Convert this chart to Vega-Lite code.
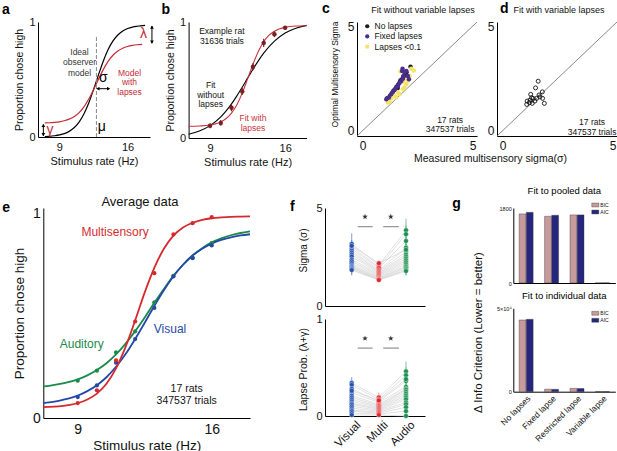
{
  "$schema": "https://vega.github.io/schema/vega-lite/v6.json",
  "background": "white",
  "padding": {"left": 2, "top": 1, "right": 0, "bottom": 0},
  "config": {
    "font": "Liberation Sans",
    "view": {"stroke": null},
    "axis": {"grid": false, "ticks": false, "domainColor": "#000", "domainWidth": 1, "labelColor": "#111", "titleColor": "#111", "titleFontWeight": "normal", "labelFlush": false, "labelOverlap": false, "labelPadding": 3},
    "title": {"anchor": "start", "frame": "group", "fontSize": 14, "fontWeight": "bold", "baseline": "alphabetic", "color": "#000"},
    "legend": {"padding": 0, "labelColor": "#111"}
  },
  "datasets": {
    "rats": [
      {"r":1,"c":1,"s":3.2,"sl":2.95,"sh":3.75,"l":0.34,"ll":0.29,"lh":0.4},
      {"r":2,"c":1,"s":3.05,"sl":2.8,"sh":3.35,"l":0.32,"ll":0.27,"lh":0.37},
      {"r":3,"c":1,"s":2.95,"sl":2.7,"sh":3.25,"l":0.28,"ll":0.23,"lh":0.33},
      {"r":4,"c":1,"s":2.85,"sl":2.6,"sh":3.15,"l":0.24,"ll":0.19,"lh":0.29},
      {"r":5,"c":1,"s":2.75,"sl":2.5,"sh":3.05,"l":0.21,"ll":0.16,"lh":0.26},
      {"r":6,"c":1,"s":2.65,"sl":2.4,"sh":2.95,"l":0.19,"ll":0.14,"lh":0.24},
      {"r":7,"c":1,"s":2.55,"sl":2.3,"sh":2.85,"l":0.17,"ll":0.12,"lh":0.22},
      {"r":8,"c":1,"s":2.4,"sl":2.15,"sh":2.7,"l":0.15,"ll":0.1,"lh":0.2},
      {"r":9,"c":1,"s":2.3,"sl":2.05,"sh":2.6,"l":0.13,"ll":0.08,"lh":0.18},
      {"r":10,"c":1,"s":2.2,"sl":1.95,"sh":2.5,"l":0.12,"ll":0.07,"lh":0.17},
      {"r":11,"c":1,"s":2.1,"sl":1.85,"sh":2.4,"l":0.1,"ll":0.05,"lh":0.15},
      {"r":12,"c":1,"s":2.05,"sl":1.8,"sh":2.35,"l":0.08,"ll":0.03,"lh":0.13},
      {"r":13,"c":1,"s":2.0,"sl":1.75,"sh":2.3,"l":0.06,"ll":0.02,"lh":0.11},
      {"r":14,"c":1,"s":1.95,"sl":1.7,"sh":2.25,"l":0.05,"ll":0.01,"lh":0.1},
      {"r":15,"c":1,"s":1.9,"sl":1.65,"sh":2.2,"l":0.03,"ll":0.0,"lh":0.08},
      {"r":16,"c":1,"s":1.85,"sl":1.57,"sh":2.15,"l":0.01,"ll":0.0,"lh":0.06},
      {"r":17,"c":1,"s":3.1,"sl":2.85,"sh":3.4,"l":0.26,"ll":0.21,"lh":0.31},
      {"r":1,"c":2,"s":2.1,"sl":1.98,"sh":2.3,"l":0.19,"ll":0.15,"lh":0.24},
      {"r":2,"c":2,"s":2.0,"sl":1.88,"sh":2.14,"l":0.17,"ll":0.13,"lh":0.21},
      {"r":3,"c":2,"s":1.95,"sl":1.83,"sh":2.08,"l":0.15,"ll":0.11,"lh":0.19},
      {"r":4,"c":2,"s":1.85,"sl":1.73,"sh":1.98,"l":0.14,"ll":0.1,"lh":0.18},
      {"r":5,"c":2,"s":1.8,"sl":1.68,"sh":1.93,"l":0.12,"ll":0.08,"lh":0.16},
      {"r":6,"c":2,"s":1.75,"sl":1.63,"sh":1.88,"l":0.11,"ll":0.07,"lh":0.15},
      {"r":7,"c":2,"s":1.7,"sl":1.58,"sh":1.83,"l":0.1,"ll":0.06,"lh":0.14},
      {"r":8,"c":2,"s":1.65,"sl":1.53,"sh":1.78,"l":0.09,"ll":0.05,"lh":0.13},
      {"r":9,"c":2,"s":1.6,"sl":1.48,"sh":1.73,"l":0.08,"ll":0.04,"lh":0.12},
      {"r":10,"c":2,"s":1.55,"sl":1.43,"sh":1.68,"l":0.07,"ll":0.03,"lh":0.11},
      {"r":11,"c":2,"s":1.5,"sl":1.38,"sh":1.63,"l":0.06,"ll":0.02,"lh":0.1},
      {"r":12,"c":2,"s":1.45,"sl":1.34,"sh":1.58,"l":0.05,"ll":0.01,"lh":0.09},
      {"r":13,"c":2,"s":1.42,"sl":1.31,"sh":1.55,"l":0.04,"ll":0.01,"lh":0.08},
      {"r":14,"c":2,"s":1.38,"sl":1.28,"sh":1.5,"l":0.03,"ll":0.0,"lh":0.07},
      {"r":15,"c":2,"s":1.36,"sl":1.27,"sh":1.48,"l":0.02,"ll":0.0,"lh":0.06},
      {"r":16,"c":2,"s":1.34,"sl":1.25,"sh":1.46,"l":0.01,"ll":0.0,"lh":0.05},
      {"r":17,"c":2,"s":2.2,"sl":2.08,"sh":2.32,"l":0.16,"ll":0.12,"lh":0.2},
      {"r":1,"c":3,"s":3.9,"sl":3.4,"sh":4.5,"l":0.46,"ll":0.38,"lh":0.56},
      {"r":2,"c":3,"s":3.7,"sl":3.3,"sh":4.15,"l":0.42,"ll":0.34,"lh":0.5},
      {"r":3,"c":3,"s":3.35,"sl":2.95,"sh":3.8,"l":0.36,"ll":0.28,"lh":0.44},
      {"r":4,"c":3,"s":3.0,"sl":2.65,"sh":3.4,"l":0.3,"ll":0.22,"lh":0.38},
      {"r":5,"c":3,"s":2.8,"sl":2.45,"sh":3.2,"l":0.28,"ll":0.2,"lh":0.36},
      {"r":6,"c":3,"s":2.65,"sl":2.3,"sh":3.05,"l":0.27,"ll":0.19,"lh":0.35},
      {"r":7,"c":3,"s":2.55,"sl":2.2,"sh":2.95,"l":0.25,"ll":0.17,"lh":0.33},
      {"r":8,"c":3,"s":2.45,"sl":2.1,"sh":2.85,"l":0.23,"ll":0.15,"lh":0.31},
      {"r":9,"c":3,"s":2.35,"sl":2.0,"sh":2.75,"l":0.21,"ll":0.13,"lh":0.29},
      {"r":10,"c":3,"s":2.25,"sl":1.95,"sh":2.65,"l":0.19,"ll":0.11,"lh":0.27},
      {"r":11,"c":3,"s":2.15,"sl":1.85,"sh":2.55,"l":0.17,"ll":0.09,"lh":0.25},
      {"r":12,"c":3,"s":2.05,"sl":1.78,"sh":2.45,"l":0.14,"ll":0.06,"lh":0.22},
      {"r":13,"c":3,"s":2.0,"sl":1.72,"sh":2.4,"l":0.12,"ll":0.04,"lh":0.2},
      {"r":14,"c":3,"s":1.92,"sl":1.65,"sh":2.3,"l":0.09,"ll":0.02,"lh":0.17},
      {"r":15,"c":3,"s":1.85,"sl":1.6,"sh":2.25,"l":0.05,"ll":0.0,"lh":0.13},
      {"r":16,"c":3,"s":1.8,"sl":1.57,"sh":2.2,"l":0.0,"ll":0.0,"lh":0.08},
      {"r":17,"c":3,"s":2.9,"sl":2.55,"sh":3.3,"l":0.38,"ll":0.3,"lh":0.46}
    ]
  },
  "spacing": 186,
  "bounds": "flush",
  "resolve": {"scale": {"x": "independent", "y": "independent", "color": "independent"}},
  "vconcat": [
    {
      "spacing": 319,
      "bounds": "flush",
      "resolve": {"scale": {"x": "independent", "y": "independent", "color": "independent"}},
      "hconcat": [
        {
          "spacing": 38.6,
          "bounds": "flush",
          "resolve": {"scale": {"x": "independent", "y": "independent", "color": "independent"}},
          "hconcat": [
            {
              "width": 112, "height": 115,
              "title": {"text": "a", "dx": -36, "dy": 9, "offset": 8},
              "encoding": {
                "x": {"field": "x", "type": "quantitative", "scale": {"domain": [6.8, 18.3], "nice": false, "zero": false}, "axis": {"values": [9, 16], "format": "d", "title": "Stimulus rate (Hz)", "labelFontSize": 11, "titleFontSize": 11, "labelPadding": 4, "titlePadding": 3}},
                "y": {"field": "y", "type": "quantitative", "scale": {"domain": [0, 1], "nice": false}, "axis": {"values": [0, 1], "format": "d", "title": "Proportion chose high", "labelFontSize": 11, "titleFontSize": 10.5, "titlePadding": 4}}
              },
              "layer": [
                {"data": {"values": [{"x":7.5,"y":0.004},{"x":8,"y":0.006},{"x":8.5,"y":0.011},{"x":9,"y":0.018},{"x":9.5,"y":0.029},{"x":10,"y":0.049},{"x":10.5,"y":0.08},{"x":11,"y":0.128},{"x":11.5,"y":0.198},{"x":12,"y":0.293},{"x":12.5,"y":0.411},{"x":13,"y":0.538},{"x":13.5,"y":0.659},{"x":14,"y":0.76},{"x":14.5,"y":0.836},{"x":15,"y":0.887},{"x":15.5,"y":0.921},{"x":16,"y":0.943},{"x":16.5,"y":0.956},{"x":17,"y":0.963},{"x":17.8,"y":0.97}]},
                 "mark": {"type": "line", "color": "#000", "strokeWidth": 1.2, "interpolate": "monotone"}},
                {"data": {"values": [{"x":7.5,"y":0.123},{"x":8,"y":0.124},{"x":8.5,"y":0.127},{"x":9,"y":0.132},{"x":9.5,"y":0.141},{"x":10,"y":0.155},{"x":10.5,"y":0.177},{"x":11,"y":0.21},{"x":11.5,"y":0.26},{"x":12,"y":0.328},{"x":12.5,"y":0.411},{"x":13,"y":0.501},{"x":13.5,"y":0.586},{"x":14,"y":0.658},{"x":14.5,"y":0.711},{"x":15,"y":0.748},{"x":15.5,"y":0.772},{"x":16,"y":0.787},{"x":16.5,"y":0.796},{"x":17,"y":0.802},{"x":17.5,"y":0.806}]},
                 "mark": {"type": "line", "color": "#c42b35", "strokeWidth": 1.2, "interpolate": "monotone"}},
                {"data": {"values": [{"x": 12.8, "y": 0, "y2": 0.87}]},
                 "mark": {"type": "rule", "color": "#8a8a8a", "strokeDash": [4, 2], "strokeWidth": 1},
                 "encoding": {"y2": {"field": "y2"}}},
                {"data": {"values": [{"x": 7.35, "y": 0.01, "y2": 0.11}, {"x": 18.5, "y": 0.815, "y2": 0.965}]},
                 "mark": {"type": "rule", "color": "#000", "strokeWidth": 1},
                 "encoding": {"y2": {"field": "y2"}}},
                {"data": {"values": [{"x": 12.9, "x2": 14.1, "y": 0.42}]},
                 "mark": {"type": "rule", "color": "#000", "strokeWidth": 1},
                 "encoding": {"x2": {"field": "x2"}}},
                {"data": {"values": [{"x": 7.35, "y": 0.1}, {"x": 18.5, "y": 0.955}]},
                 "mark": {"type": "point", "shape": "triangle-up", "filled": true, "color": "#000", "size": 14, "opacity": 1}},
                {"data": {"values": [{"x": 7.35, "y": 0.02}, {"x": 18.5, "y": 0.825}]},
                 "mark": {"type": "point", "shape": "triangle-down", "filled": true, "color": "#000", "size": 14, "opacity": 1}},
                {"data": {"values": [{"x": 12.95, "y": 0.42}]},
                 "mark": {"type": "point", "shape": "triangle-left", "filled": true, "color": "#000", "size": 14, "opacity": 1}},
                {"data": {"values": [{"x": 14.05, "y": 0.42}]},
                 "mark": {"type": "point", "shape": "triangle-right", "filled": true, "color": "#000", "size": 14, "opacity": 1}},
                {"data": {"values": [{"x": 11.06, "y": 0.74, "t": "Ideal\nobserver\nmodel"}]},
                 "mark": {"type": "text", "fontSize": 8.5, "color": "#333", "lineBreak": "\n", "lineHeight": 10.5, "baseline": "middle"},
                 "encoding": {"text": {"field": "t"}}},
                {"data": {"values": [{"x": 16.2, "y": 0.56, "t": "Model\nwith\nlapses"}]},
                 "mark": {"type": "text", "fontSize": 8.5, "color": "#c42b35", "lineBreak": "\n", "lineHeight": 9.5, "baseline": "middle"},
                 "encoding": {"text": {"field": "t"}}},
                {"data": {"values": [{"x": 13.5, "y": 0.51, "t": "σ"}, {"x": 13.35, "y": 0.09, "t": "μ"}]},
                 "mark": {"type": "text", "fontSize": 14, "color": "#000", "baseline": "middle"},
                 "encoding": {"text": {"field": "t"}}},
                {"data": {"values": [{"x": 17.63, "y": 0.895, "t": "λ"}, {"x": 8.02, "y": 0.06, "t": "γ"}]},
                 "mark": {"type": "text", "fontSize": 14, "color": "#c42b35", "baseline": "middle"},
                 "encoding": {"text": {"field": "t"}}}
              ]
            },
            {
              "width": 118, "height": 116,
              "title": {"text": "b", "dx": -27, "dy": 9, "offset": 8},
              "encoding": {
                "x": {"field": "x", "type": "quantitative", "scale": {"domain": [7, 18], "nice": false, "zero": false}, "axis": {"values": [9, 16], "format": "d", "title": "Stimulus rate (Hz)", "labelFontSize": 11, "titleFontSize": 11, "labelPadding": 4, "titlePadding": 3}},
                "y": {"field": "y", "type": "quantitative", "scale": {"domain": [0, 1], "nice": false}, "axis": {"values": [0, 1], "format": "d", "title": "Proportion chose high", "labelFontSize": 11, "titleFontSize": 10.5, "titlePadding": 4}}
              },
              "layer": [
                {"data": {"values": [{"x":7,"y":0.033},{"x":8,"y":0.06},{"x":9,"y":0.107},{"x":10,"y":0.182},{"x":10.5,"y":0.234},{"x":11,"y":0.294},{"x":11.5,"y":0.363},{"x":12,"y":0.438},{"x":12.5,"y":0.516},{"x":13,"y":0.593},{"x":13.5,"y":0.665},{"x":14,"y":0.731},{"x":15,"y":0.835},{"x":16,"y":0.905},{"x":17,"y":0.947},{"x":18,"y":0.971}]},
                 "mark": {"type": "line", "color": "#000", "strokeWidth": 1.1, "interpolate": "monotone"}},
                {"data": {"values": [{"x":7,"y":0.101},{"x":8,"y":0.104},{"x":9,"y":0.112},{"x":9.5,"y":0.122},{"x":10,"y":0.139},{"x":10.5,"y":0.168},{"x":11,"y":0.215},{"x":11.5,"y":0.287},{"x":12,"y":0.387},{"x":12.5,"y":0.51},{"x":13,"y":0.636},{"x":13.5,"y":0.746},{"x":14,"y":0.83},{"x":14.5,"y":0.886},{"x":15,"y":0.921},{"x":15.5,"y":0.942},{"x":16,"y":0.954},{"x":17,"y":0.965},{"x":18,"y":0.968}]},
                 "mark": {"type": "line", "color": "#c8323c", "strokeWidth": 1.1, "interpolate": "monotone"}},
                {"data": {"values": [{"x":9,"y":0.085,"y2":0.125},{"x":10,"y":0.105,"y2":0.155},{"x":11,"y":0.23,"y2":0.29},{"x":12,"y":0.37,"y2":0.43},{"x":13,"y":0.585,"y2":0.645},{"x":14,"y":0.785,"y2":0.855},{"x":15,"y":0.87,"y2":0.92},{"x":16,"y":0.935,"y2":0.965}]},
                 "mark": {"type": "rule", "color": "#7a1f22", "strokeWidth": 1.2},
                 "encoding": {"y2": {"field": "y2"}}},
                {"data": {"values": [{"x":9,"y":0.105},{"x":10,"y":0.13},{"x":11,"y":0.26},{"x":12,"y":0.4},{"x":13,"y":0.615},{"x":14,"y":0.82},{"x":15,"y":0.895},{"x":16,"y":0.95}]},
                 "mark": {"type": "point", "filled": true, "color": "#7a1f22", "size": 20, "opacity": 1}},
                {"data": {"values": [{"x": 10.1, "y": 0.925, "t": "Example rat\n31636 trials"}]},
                 "mark": {"type": "text", "fontSize": 8.5, "color": "#111", "lineBreak": "\n", "lineHeight": 10, "baseline": "middle"},
                 "encoding": {"text": {"field": "t"}}},
                {"data": {"values": [{"x": 9.06, "y": 0.455, "t": "Fit\nwithout\nlapses"}]},
                 "mark": {"type": "text", "fontSize": 8.5, "color": "#111", "lineBreak": "\n", "lineHeight": 9.5, "baseline": "middle"},
                 "encoding": {"text": {"field": "t"}}},
                {"data": {"values": [{"x": 13.0, "y": 0.175, "t": "Fit with\nlapses"}]},
                 "mark": {"type": "text", "fontSize": 8.5, "color": "#c8323c", "lineBreak": "\n", "lineHeight": 10.5, "baseline": "middle"},
                 "encoding": {"text": {"field": "t"}}}
              ]
            }
          ]
        },
        {
          "spacing": 20,
          "bounds": "flush",
          "resolve": {"scale": {"x": "independent", "y": "independent", "color": "independent"}},
          "hconcat": [
            {
              "width": 120, "height": 114,
              "title": {"text": "c", "dx": -35, "dy": 20, "offset": 10},
              "encoding": {
                "x": {"field": "x", "type": "quantitative", "scale": {"domain": [-0.25, 5.2], "nice": false, "zero": false}, "axis": {"values": [0, 5], "title": "Measured multisensory sigma(σ)", "labelFontSize": 12, "titleFontSize": 10.5, "labelPadding": 4, "titleX": 133, "titleY": 22, "titleBaseline": "middle"}},
                "y": {"field": "y", "type": "quantitative", "scale": {"domain": [-0.25, 5.2], "nice": false, "zero": false}, "axis": {"values": [0, 5], "title": "Optimal Multisensory Sigma", "labelFontSize": 12, "titleFontSize": 8.5, "titleX": -23, "titleY": 52, "titleBaseline": "middle"}}
              },
              "layer": [
                {"data": {"values": [{"x": -0.25, "y": -0.25}, {"x": 5.2, "y": 5.2}]},
                 "mark": {"type": "line", "color": "#6a6a6a", "strokeWidth": 0.8}},
                {"data": {"values": [
                  {"g":"No lapses","x":2.18,"y":3.06},{"g":"No lapses","x":1.12,"y":1.55},{"g":"No lapses","x":1.25,"y":1.68},{"g":"No lapses","x":1.35,"y":1.82},{"g":"No lapses","x":1.45,"y":1.95},{"g":"No lapses","x":1.55,"y":2.1},{"g":"No lapses","x":1.62,"y":2.2},{"g":"No lapses","x":1.7,"y":2.32},{"g":"No lapses","x":1.78,"y":2.45},{"g":"No lapses","x":1.85,"y":2.58},{"g":"No lapses","x":1.93,"y":2.7},{"g":"No lapses","x":2.0,"y":2.8},{"g":"No lapses","x":1.4,"y":1.9},{"g":"No lapses","x":1.6,"y":2.05},{"g":"No lapses","x":1.72,"y":2.4},{"g":"No lapses","x":1.88,"y":2.52},{"g":"No lapses","x":2.05,"y":2.55},
                  {"g":"Lapses <0.1","x":2.21,"y":2.97},{"g":"Lapses <0.1","x":2.33,"y":2.88},{"g":"Lapses <0.1","x":1.99,"y":2.22},{"g":"Lapses <0.1","x":1.83,"y":1.99},{"g":"Lapses <0.1","x":1.61,"y":1.83},{"g":"Lapses <0.1","x":1.45,"y":1.67},{"g":"Lapses <0.1","x":1.3,"y":1.54},{"g":"Lapses <0.1","x":1.72,"y":2.83},{"g":"Lapses <0.1","x":2.06,"y":2.38},{"g":"Lapses <0.1","x":2.14,"y":2.62},{"g":"Lapses <0.1","x":1.91,"y":2.07},{"g":"Lapses <0.1","x":1.68,"y":1.75},{"g":"Lapses <0.1","x":1.53,"y":1.59},{"g":"Lapses <0.1","x":1.23,"y":1.38},{"g":"Lapses <0.1","x":1.15,"y":1.35},{"g":"Lapses <0.1","x":2.02,"y":2.46},{"g":"Lapses <0.1","x":1.83,"y":2.33},
                  {"g":"Fixed lapses","x":1.08,"y":1.51},{"g":"Fixed lapses","x":1.2,"y":1.59},{"g":"Fixed lapses","x":1.3,"y":1.75},{"g":"Fixed lapses","x":1.38,"y":1.86},{"g":"Fixed lapses","x":1.47,"y":1.99},{"g":"Fixed lapses","x":1.53,"y":2.07},{"g":"Fixed lapses","x":1.61,"y":2.14},{"g":"Fixed lapses","x":1.68,"y":2.3},{"g":"Fixed lapses","x":1.76,"y":2.38},{"g":"Fixed lapses","x":1.83,"y":2.49},{"g":"Fixed lapses","x":1.86,"y":2.62},{"g":"Fixed lapses","x":1.91,"y":2.78},{"g":"Fixed lapses","x":1.8,"y":2.86},{"g":"Fixed lapses","x":1.99,"y":2.86},{"g":"Fixed lapses","x":2.06,"y":2.62},{"g":"Fixed lapses","x":2.11,"y":2.46},{"g":"Fixed lapses","x":1.82,"y":2.97}
                 ]},
                 "mark": {"type": "circle", "size": 20, "opacity": 1},
                 "encoding": {"color": {"field": "g", "type": "nominal", "scale": {"domain": ["No lapses", "Fixed lapses", "Lapses <0.1"], "range": ["#1c1c1c", "#4b2d8f", "#f2e46b"]},
                   "legend": {"orient": "none", "legendX": 6, "legendY": 0, "title": null, "labelFontSize": 8.5, "symbolSize": 18, "symbolType": "circle", "rowPadding": 1.2, "labelOffset": 3}}}},
                {"data": {"values": [{"x": 3.98, "y": 0.53, "t": "17 rats\n347537 trials"}]},
                 "mark": {"type": "text", "fontSize": 8.5, "color": "#111", "lineBreak": "\n", "lineHeight": 9.5, "baseline": "middle"},
                 "encoding": {"text": {"field": "t"}}},
                {"data": {"values": [{"x": 2.75, "y": 5.78, "t": "Fit without variable lapses"}]},
                 "mark": {"type": "text", "fontSize": 9, "color": "#111", "baseline": "middle"},
                 "encoding": {"text": {"field": "t"}}}
              ]
            },
            {
              "width": 120, "height": 114,
              "title": {"text": "d", "dx": 3, "dy": 20, "offset": 10},
              "encoding": {
                "x": {"field": "x", "type": "quantitative", "scale": {"domain": [-0.25, 5.2], "nice": false, "zero": false}, "axis": {"values": [0, 5], "title": null, "labelFontSize": 12, "labelPadding": 4}},
                "y": {"field": "y", "type": "quantitative", "scale": {"domain": [-0.25, 5.2], "nice": false, "zero": false}, "axis": {"values": [0, 5], "title": null, "labelFontSize": 12}}
              },
              "layer": [
                {"data": {"values": [{"x": -0.25, "y": -0.25}, {"x": 5.2, "y": 5.2}]},
                 "mark": {"type": "line", "color": "#6a6a6a", "strokeWidth": 0.8}},
                {"data": {"values": [{"x":1.62,"y":2.37},{"x":1.5,"y":2.05},{"x":1.81,"y":1.86},{"x":1.66,"y":1.71},{"x":1.9,"y":1.31},{"x":1.28,"y":1.74},{"x":1.32,"y":1.58},{"x":1.12,"y":1.42},{"x":1.1,"y":1.26},{"x":1.22,"y":1.35},{"x":1.35,"y":1.31},{"x":1.47,"y":1.42},{"x":1.55,"y":1.55},{"x":1.82,"y":1.55},{"x":1.39,"y":1.55},{"x":1.7,"y":1.62},{"x":1.25,"y":1.47}]},
                 "mark": {"type": "point", "shape": "circle", "filled": false, "color": "#111", "size": 16, "strokeWidth": 0.9, "opacity": 1}},
                {"data": {"values": [{"x": 4.07, "y": 0.4, "t": "17 rats\n347537 trials"}]},
                 "mark": {"type": "text", "fontSize": 8.5, "color": "#111", "lineBreak": "\n", "lineHeight": 9.5, "baseline": "middle"},
                 "encoding": {"text": {"field": "t"}}},
                {"data": {"values": [{"x": 2.57, "y": 5.78, "t": "Fit with variable lapses"}]},
                 "mark": {"type": "text", "fontSize": 9, "color": "#111", "baseline": "middle"},
                 "encoding": {"text": {"field": "t"}}}
              ]
            }
          ]
        }
      ]
    },
    {
      "spacing": 287,
      "bounds": "flush",
      "resolve": {"scale": {"x": "independent", "y": "independent", "color": "independent"}},
      "hconcat": [
        {
          "spacing": 4.3,
          "bounds": "flush",
          "resolve": {"scale": {"x": "independent", "y": "independent", "color": "independent"}},
          "hconcat": [
            {"width": 1, "height": 1, "data": {"values": []}, "mark": "point"},
            {
              "width": 206.7, "height": 210,
              "title": {"text": "e", "dx": -41, "dy": 15, "offset": -4},
              "encoding": {
                "x": {"field": "x", "type": "quantitative", "scale": {"domain": [7.2, 18], "nice": false, "zero": false}, "axis": {"values": [9, 16], "format": "d", "title": "Stimulus rate (Hz)", "labelFontSize": 14, "titleFontSize": 13.5, "labelPadding": 4, "titlePadding": 2}},
                "y": {"field": "y", "type": "quantitative", "scale": {"domain": [0, 1.025], "nice": false}, "axis": {"values": [0, 1], "format": "d", "title": "Proportion chose high", "labelFontSize": 14, "titleFontSize": 13.5, "titlePadding": 6}},
                "color": {"field": "m", "type": "nominal", "scale": {"domain": ["Multisensory", "Auditory", "Visual"], "range": ["#d42a2e", "#1b8a4a", "#2548a8"]}, "legend": null}
              },
              "layer": [
                {"data": {"values": [
                  {"m":"Auditory","x":7.2,"y":0.154},{"m":"Auditory","x":7.5,"y":0.157},{"m":"Auditory","x":8,"y":0.165},{"m":"Auditory","x":8.5,"y":0.175},{"m":"Auditory","x":9,"y":0.189},{"m":"Auditory","x":9.5,"y":0.208},{"m":"Auditory","x":10,"y":0.234},{"m":"Auditory","x":10.5,"y":0.267},{"m":"Auditory","x":11,"y":0.31},{"m":"Auditory","x":11.5,"y":0.363},{"m":"Auditory","x":12,"y":0.424},{"m":"Auditory","x":12.5,"y":0.491},{"m":"Auditory","x":13,"y":0.562},{"m":"Auditory","x":13.5,"y":0.63},{"m":"Auditory","x":14,"y":0.694},{"m":"Auditory","x":14.5,"y":0.748},{"m":"Auditory","x":15,"y":0.793},{"m":"Auditory","x":15.5,"y":0.829},{"m":"Auditory","x":16,"y":0.857},{"m":"Auditory","x":16.5,"y":0.877},{"m":"Auditory","x":17,"y":0.892},{"m":"Auditory","x":17.5,"y":0.903},{"m":"Auditory","x":18,"y":0.911},
                  {"m":"Visual","x":7.2,"y":0.073},{"m":"Visual","x":7.5,"y":0.076},{"m":"Visual","x":8,"y":0.084},{"m":"Visual","x":8.5,"y":0.094},{"m":"Visual","x":9,"y":0.109},{"m":"Visual","x":9.5,"y":0.131},{"m":"Visual","x":10,"y":0.16},{"m":"Visual","x":10.5,"y":0.199},{"m":"Visual","x":11,"y":0.25},{"m":"Visual","x":11.5,"y":0.312},{"m":"Visual","x":12,"y":0.386},{"m":"Visual","x":12.5,"y":0.465},{"m":"Visual","x":13,"y":0.547},{"m":"Visual","x":13.5,"y":0.624},{"m":"Visual","x":14,"y":0.692},{"m":"Visual","x":14.5,"y":0.748},{"m":"Visual","x":15,"y":0.793},{"m":"Visual","x":15.5,"y":0.826},{"m":"Visual","x":16,"y":0.851},{"m":"Visual","x":16.5,"y":0.869},{"m":"Visual","x":17,"y":0.882},{"m":"Visual","x":17.5,"y":0.891},{"m":"Visual","x":18,"y":0.897},
                  {"m":"Multisensory","x":7.2,"y":0.053},{"m":"Multisensory","x":7.5,"y":0.054},{"m":"Multisensory","x":8,"y":0.057},{"m":"Multisensory","x":8.5,"y":0.063},{"m":"Multisensory","x":9,"y":0.072},{"m":"Multisensory","x":9.5,"y":0.09},{"m":"Multisensory","x":10,"y":0.119},{"m":"Multisensory","x":10.5,"y":0.167},{"m":"Multisensory","x":11,"y":0.242},{"m":"Multisensory","x":11.5,"y":0.347},{"m":"Multisensory","x":12,"y":0.476},{"m":"Multisensory","x":12.5,"y":0.613},{"m":"Multisensory","x":13,"y":0.733},{"m":"Multisensory","x":13.5,"y":0.826},{"m":"Multisensory","x":14,"y":0.89},{"m":"Multisensory","x":14.5,"y":0.93},{"m":"Multisensory","x":15,"y":0.953},{"m":"Multisensory","x":15.5,"y":0.967},{"m":"Multisensory","x":16,"y":0.975},{"m":"Multisensory","x":16.5,"y":0.979},{"m":"Multisensory","x":17,"y":0.982},{"m":"Multisensory","x":17.5,"y":0.983},{"m":"Multisensory","x":18,"y":0.984}
                 ]},
                 "mark": {"type": "line", "strokeWidth": 1.8, "interpolate": "monotone"}},
                {"data": {"values": [
                  {"m":"Auditory","x":9,"y":0.182},{"m":"Auditory","x":10,"y":0.231},{"m":"Auditory","x":11,"y":0.32},{"m":"Auditory","x":12,"y":0.423},{"m":"Auditory","x":13,"y":0.564},{"m":"Auditory","x":14,"y":0.694},{"m":"Auditory","x":15,"y":0.783},{"m":"Auditory","x":16,"y":0.854},
                  {"m":"Visual","x":9,"y":0.102},{"m":"Visual","x":10,"y":0.159},{"m":"Visual","x":11,"y":0.27},{"m":"Visual","x":12,"y":0.385},{"m":"Visual","x":13,"y":0.537},{"m":"Visual","x":14,"y":0.691},{"m":"Visual","x":15,"y":0.78},{"m":"Visual","x":16,"y":0.842},
                  {"m":"Multisensory","x":9,"y":0.073},{"m":"Multisensory","x":10,"y":0.135},{"m":"Multisensory","x":11,"y":0.281},{"m":"Multisensory","x":12,"y":0.471},{"m":"Multisensory","x":13,"y":0.707},{"m":"Multisensory","x":14,"y":0.896},{"m":"Multisensory","x":15,"y":0.951},{"m":"Multisensory","x":16,"y":0.98}
                 ]},
                 "mark": {"type": "circle", "size": 18, "opacity": 1}},
                {"data": {"values": [{"m": "Multisensory", "x": 10.95, "y": 0.909}, {"m": "Auditory", "x": 9.21, "y": 0.361}, {"m": "Visual", "x": 13.82, "y": 0.433}]},
                 "mark": {"type": "text", "fontSize": 12, "baseline": "middle"},
                 "encoding": {"text": {"field": "m"}}},
                {"data": {"values": [{"m": "Multisensory", "x": 14.69, "y": 0.142, "t": "17 rats\n347537 trials"}]},
                 "mark": {"type": "text", "fontSize": 10.5, "lineBreak": "\n", "lineHeight": 12, "baseline": "middle"},
                 "encoding": {"text": {"field": "t"}, "color": {"value": "#111"}}},
                {"data": {"values": [{"m": "Multisensory", "x": 12.25, "y": 1.054, "t": "Average data"}]},
                 "mark": {"type": "text", "fontSize": 13, "baseline": "middle"},
                 "encoding": {"text": {"field": "t"}, "color": {"value": "#111"}}}
              ]
            }
          ]
        },
        {
          "spacing": 188.3,
          "bounds": "flush",
          "resolve": {"scale": {"x": "independent", "y": "independent", "color": "independent"}},
          "hconcat": [
            {
              "spacing": 13,
              "bounds": "flush",
              "resolve": {"scale": {"x": "independent", "y": "independent", "color": "independent"}},
              "vconcat": [
                {
                  "width": 100, "height": 98,
                  "title": {"text": "f", "dx": -35, "dy": 8, "offset": -3},
                  "data": {"name": "rats"},
                  "encoding": {
                    "x": {"field": "c", "type": "quantitative", "scale": {"domain": [0.015, 3.7], "nice": false, "zero": false}, "axis": {"values": [1, 2, 3], "labels": false, "title": null}}
                  },
                  "layer": [
                    {"mark": {"type": "line", "color": "#cccccc", "strokeWidth": 0.6},
                     "encoding": {"y": {"field": "s", "type": "quantitative", "scale": {"domain": [0, 5.05], "nice": false}, "axis": {"values": [0, 5], "title": "Sigma (σ)", "labelFontSize": 11, "titleFontSize": 10, "titleX": -22, "titleY": 42, "titleBaseline": "middle"}}, "detail": {"field": "r"}}},
                    {"mark": {"type": "rule", "strokeWidth": 1, "opacity": 0.55},
                     "encoding": {"y": {"field": "sl", "type": "quantitative", "title": "Sigma (σ)"}, "y2": {"field": "sh"},
                       "color": {"field": "c", "type": "nominal", "scale": {"domain": [1, 2, 3], "range": ["#2450b0", "#e0262e", "#1a9050"]}, "legend": null}}},
                    {"mark": {"type": "point", "filled": true, "size": 24, "stroke": "#ffffff", "strokeWidth": 0.4, "opacity": 1},
                     "encoding": {"y": {"field": "s", "type": "quantitative", "title": "Sigma (σ)"},
                       "color": {"field": "c", "type": "nominal", "scale": {"domain": [1, 2, 3], "range": ["#2450b0", "#e0262e", "#1a9050"]}, "legend": null}}},
                    {"data": {"values": [{"c": 1.22, "c2": 1.77, "s": 4.09}, {"c": 2.16, "c2": 2.74, "s": 4.09}]},
                     "mark": {"type": "rule", "color": "#9a9a9a", "strokeWidth": 1.3},
                     "encoding": {"x2": {"field": "c2"}, "y": {"field": "s", "type": "quantitative", "title": "Sigma (σ)"}}},
                    {"data": {"values": [{"c": 1.49, "s": 4.6}, {"c": 2.44, "s": 4.6}]},
                     "mark": {"type": "point", "shape": "M0,-1L0.235,-0.324L0.951,-0.309L0.38,0.124L0.588,0.809L0,0.4L-0.588,0.809L-0.38,0.124L-0.951,-0.309L-0.235,-0.324Z", "filled": true, "color": "#333", "size": 36, "opacity": 1},
                     "encoding": {"y": {"field": "s", "type": "quantitative", "title": "Sigma (σ)"}}}
                  ]
                },
                {
                  "width": 100, "height": 97,
                  "data": {"name": "rats"},
                  "encoding": {
                    "x": {"field": "c", "type": "quantitative", "scale": {"domain": [0.015, 3.7], "nice": false, "zero": false}, "axis": {"values": [1, 2, 3], "labels": false, "title": null}}
                  },
                  "layer": [
                    {"mark": {"type": "line", "color": "#cccccc", "strokeWidth": 0.6},
                     "encoding": {"y": {"field": "l", "type": "quantitative", "scale": {"domain": [0, 1], "nice": false}, "axis": {"values": [0, 1], "format": "d", "title": "Lapse Prob. (λ+γ)", "labelFontSize": 11, "titleFontSize": 10.5, "titleX": -22, "titleY": 50, "titleBaseline": "middle"}}, "detail": {"field": "r"}}},
                    {"mark": {"type": "rule", "strokeWidth": 1, "opacity": 0.55},
                     "encoding": {"y": {"field": "ll", "type": "quantitative", "title": "Lapse Prob. (λ+γ)"}, "y2": {"field": "lh"},
                       "color": {"field": "c", "type": "nominal", "scale": {"domain": [1, 2, 3], "range": ["#2450b0", "#e0262e", "#1a9050"]}, "legend": null}}},
                    {"mark": {"type": "point", "filled": true, "size": 24, "stroke": "#ffffff", "strokeWidth": 0.4, "opacity": 1},
                     "encoding": {"y": {"field": "l", "type": "quantitative", "title": "Lapse Prob. (λ+γ)"},
                       "color": {"field": "c", "type": "nominal", "scale": {"domain": [1, 2, 3], "range": ["#2450b0", "#e0262e", "#1a9050"]}, "legend": null}}},
                    {"data": {"values": [{"c": 1.22, "c2": 1.77, "l": 0.7}, {"c": 2.16, "c2": 2.74, "l": 0.7}]},
                     "mark": {"type": "rule", "color": "#9a9a9a", "strokeWidth": 1.3},
                     "encoding": {"x2": {"field": "c2"}, "y": {"field": "l", "type": "quantitative", "title": "Lapse Prob. (λ+γ)"}}},
                    {"data": {"values": [{"c": 1.49, "l": 0.8}, {"c": 2.44, "l": 0.8}]},
                     "mark": {"type": "point", "shape": "M0,-1L0.235,-0.324L0.951,-0.309L0.38,0.124L0.588,0.809L0,0.4L-0.588,0.809L-0.38,0.124L-0.951,-0.309L-0.235,-0.324Z", "filled": true, "color": "#333", "size": 36, "opacity": 1},
                     "encoding": {"y": {"field": "l", "type": "quantitative", "title": "Lapse Prob. (λ+γ)"}}},
                    {"data": {"values": [{"c": 1.12, "l": -0.035, "t": "Visual"}, {"c": 2.12, "l": -0.035, "t": "Multi"}, {"c": 3.12, "l": -0.035, "t": "Audio"}]},
                     "mark": {"type": "text", "fontSize": 11.5, "color": "#111", "angle": -45, "align": "right", "baseline": "top"},
                     "encoding": {"y": {"field": "l", "type": "quantitative", "title": "Lapse Prob. (λ+γ)"}, "text": {"field": "t"}}}
                  ]
                }
              ]
            },
            {
              "spacing": 25.3,
              "bounds": "flush",
              "title": {"text": "g", "dx": -61, "dy": 21, "offset": -4},
              "resolve": {"scale": {"x": "independent", "y": "independent", "color": "independent"}},
              "vconcat": [
                {
                  "width": 102, "height": 75,
                  "title": {"text": "Fit to pooled data", "anchor": "middle", "fontSize": 9.5, "fontWeight": "normal", "offset": 6},
                  "data": {"values": [
                    {"m":"No lapses","k":"BIC","v":1658},{"m":"No lapses","k":"AIC","v":1696},
                    {"m":"Fixed lapse","k":"BIC","v":1601},{"m":"Fixed lapse","k":"AIC","v":1625},
                    {"m":"Restricted lapse","k":"BIC","v":1634},{"m":"Restricted lapse","k":"AIC","v":1634},
                    {"m":"Variable lapse","k":"BIC","v":4},{"m":"Variable lapse","k":"AIC","v":4}
                  ]},
                  "mark": {"type": "bar", "stroke": "#333", "strokeWidth": 0.4},
                  "encoding": {
                    "x": {"field": "m", "type": "nominal", "sort": null, "scale": {"paddingInner": 0.45, "paddingOuter": 0.23}, "axis": {"labels": false, "title": null}},
                    "xOffset": {"field": "k", "sort": ["BIC", "AIC"], "scale": {"paddingInner": 0.05}},
                    "y": {"field": "v", "type": "quantitative", "scale": {"domain": [0, 1800], "nice": false}, "axis": {"values": [0, 1800], "format": "d", "title": "Δ Info Criterion (Lower = better)", "labelFontSize": 5.5, "labelPadding": 2, "titleFontSize": 11.5, "titleX": -35, "titleY": 124, "titleBaseline": "middle"}},
                    "color": {"field": "k", "type": "nominal", "sort": ["BIC", "AIC"], "scale": {"domain": ["BIC", "AIC"], "range": ["#c99a9b", "#26267f"]},
                      "legend": {"orient": "none", "legendX": 78, "legendY": -7, "title": null, "labelFontSize": 5, "symbolType": "M-1,-0.55H1V0.55H-1Z", "symbolSize": 49, "symbolStrokeColor": "#333", "symbolStrokeWidth": 0.4, "rowPadding": 0, "labelOffset": 1}}
                  }
                },
                {
                  "width": 102, "height": 83.4,
                  "title": {"text": "Fit to individual data", "anchor": "middle", "fontSize": 9.5, "fontWeight": "normal", "offset": 6},
                  "data": {"values": [
                    {"m":"No lapses","k":"BIC","v":42990},{"m":"No lapses","k":"AIC","v":43400},
                    {"m":"Fixed lapse","k":"BIC","v":1500},{"m":"Fixed lapse","k":"AIC","v":1400},
                    {"m":"Restricted lapse","k":"BIC","v":2000},{"m":"Restricted lapse","k":"AIC","v":1900},
                    {"m":"Variable lapse","k":"BIC","v":150},{"m":"Variable lapse","k":"AIC","v":100}
                  ]},
                  "mark": {"type": "bar", "stroke": "#333", "strokeWidth": 0.4},
                  "encoding": {
                    "x": {"field": "m", "type": "nominal", "sort": null, "scale": {"paddingInner": 0.45, "paddingOuter": 0.23}, "axis": {"title": null, "labelAngle": -45, "labelFontSize": 8.5, "labelPadding": 2}},
                    "xOffset": {"field": "k", "sort": ["BIC", "AIC"], "scale": {"paddingInner": 0.05}},
                    "y": {"field": "v", "type": "quantitative", "scale": {"domain": [0, 50000], "nice": false}, "axis": {"values": [0, 50000], "labelExpr": "datum.value == 0 ? '0' : '5×10⁴'", "title": null, "labelFontSize": 5.5, "labelPadding": 2}},
                    "color": {"field": "k", "type": "nominal", "sort": ["BIC", "AIC"], "scale": {"domain": ["BIC", "AIC"], "range": ["#c99a9b", "#26267f"]},
                      "legend": {"orient": "none", "legendX": 78, "legendY": 1, "title": null, "labelFontSize": 5, "symbolType": "M-1,-0.55H1V0.55H-1Z", "symbolSize": 49, "symbolStrokeColor": "#333", "symbolStrokeWidth": 0.4, "rowPadding": 0, "labelOffset": 1}}
                  }
                }
              ]
            }
          ]
        }
      ]
    }
  ]
}
